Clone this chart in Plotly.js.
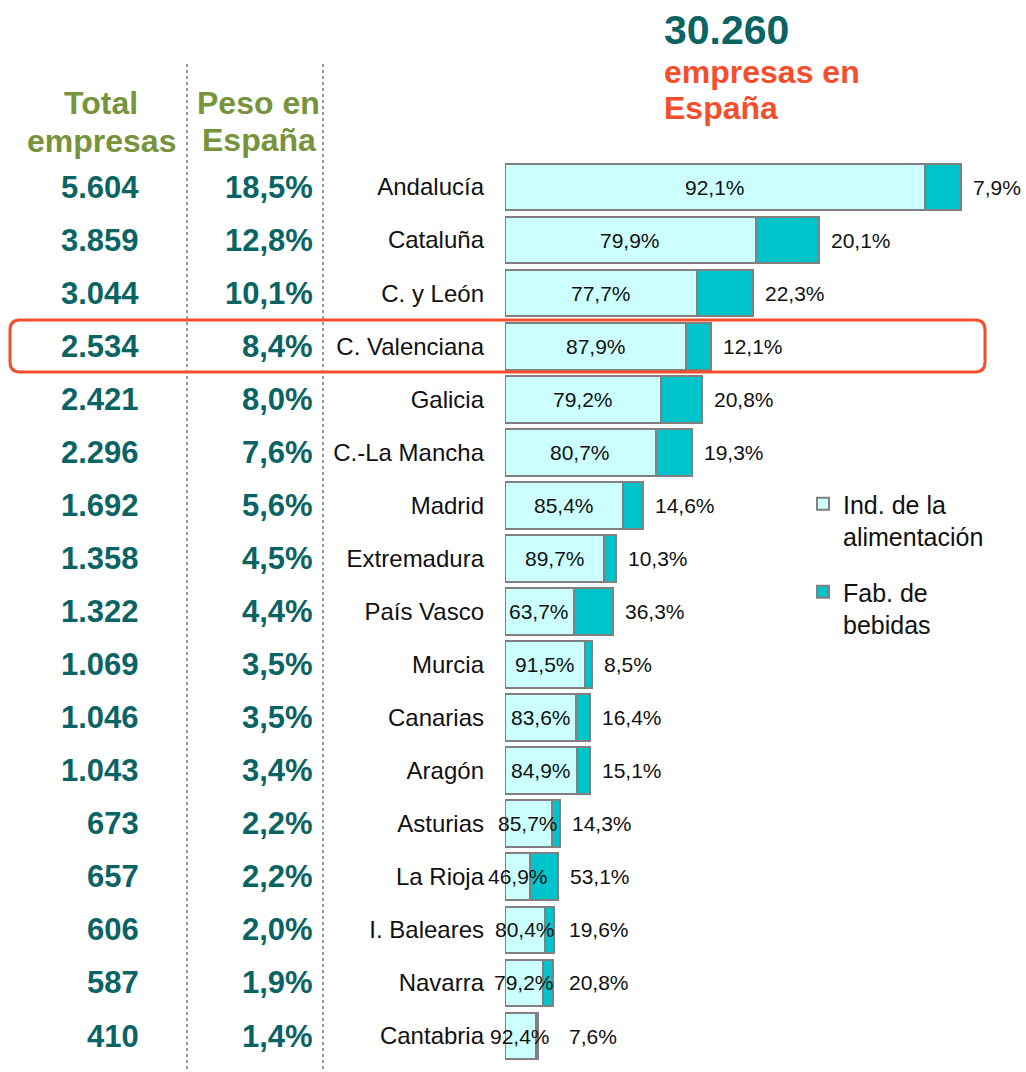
<!DOCTYPE html>
<html>
<head>
<meta charset="utf-8">
<script src="https://cdn.plot.ly/plotly-3.0.1.min.js"></script>
<style>html,body{margin:0;padding:0;background:#fff;}#chart{width:1026px;height:1072px;}</style>
</head>
<body>
<div id="chart"></div>
<script>
// ---- data ----
const regions = ["Andalucía","Cataluña","C. y León","C. Valenciana","Galicia","C.-La Mancha","Madrid","Extremadura","País Vasco","Murcia","Canarias","Aragón","Asturias","La Rioja","I. Baleares","Navarra","Cantabria"];
const totals = [5604,3859,3044,2534,2421,2296,1692,1358,1322,1069,1046,1043,673,657,606,587,410];
const peso = ["18,5%","12,8%","10,1%","8,4%","8,0%","7,6%","5,6%","4,5%","4,4%","3,5%","3,5%","3,4%","2,2%","2,2%","2,0%","1,9%","1,4%"];
const pctAlim = [92.1,79.9,77.7,87.9,79.2,80.7,85.4,89.7,63.7,91.5,83.6,84.9,85.7,46.9,80.4,79.2,92.4];
const pctBeb = [7.9,20.1,22.3,12.1,20.8,19.3,14.6,10.3,36.3,8.5,16.4,15.1,14.3,53.1,19.6,20.8,7.6];
const seriesNames = ["Ind. de la<br>alimentación","Fab. de<br>bebidas"];
const totalSpain = "30.260";
const highlightIndex = 3;

// ---- helpers ----
const W = 1026, H = 1072;
const px = v => v / W;
const py = v => 1 - v / H;
const fmtInt = n => String(n).replace(/\B(?=(\d{3})+(?!\d))/g, ".");
const fmtPct = v => v.toFixed(1).replace(".", ",") + "%";
const FONT = "Liberation Sans, Arial, sans-serif";
const TEAL = "#0B6464";
const GREEN = "#77933C";
const RED = "#F54E2C";

const alimVals = totals.map((t, i) => t * pctAlim[i] / 100);
const bebVals = totals.map((t, i) => t * pctBeb[i] / 100);

const traces = [
  {type: "bar", orientation: "h", y: regions, x: alimVals, name: seriesNames[0], legendgroup: "a",
   marker: {color: "#CCFFFF", line: {color: "#808080", width: 2}}, hoverinfo: "skip", width: 0.88},
  {type: "bar", orientation: "h", y: regions, x: bebVals, name: seriesNames[1], legendgroup: "b",
   marker: {color: "#00C4CC", line: {color: "#808080", width: 2}}, hoverinfo: "skip", width: 0.88}
];

const annotations = [];
regions.forEach((r, i) => {
  annotations.push({xref: "x", yref: "y", x: alimVals[i] / 2, y: r, text: fmtPct(pctAlim[i]), showarrow: false,
    xanchor: "center", yanchor: "middle", font: {family: FONT, size: 21, color: "#111"}});
  annotations.push({xref: "x", yref: "y", x: Math.max(totals[i], 640), y: r, text: fmtPct(pctBeb[i]), showarrow: false,
    xanchor: "left", yanchor: "middle", xshift: 10, font: {family: FONT, size: 21, color: "#111"}});
  annotations.push({xref: "paper", yref: "y", x: px(141), y: r, text: fmtInt(totals[i]), showarrow: false,
    xanchor: "right", yanchor: "middle", font: {family: FONT, size: 31, color: TEAL, weight: "bold"}});
  annotations.push({xref: "paper", yref: "y", x: px(315), y: r, text: peso[i], showarrow: false,
    xanchor: "right", yanchor: "middle", font: {family: FONT, size: 31, color: TEAL, weight: "bold"}});
});
// headers
[["Total", 101, 103], ["empresas", 101, 141], ["Peso en", 258, 103], ["España", 259, 140]].forEach(h => {
  annotations.push({xref: "paper", yref: "paper", x: px(h[1]), y: py(h[2]), text: h[0], showarrow: false,
    xanchor: "center", yanchor: "middle", font: {family: FONT, size: 32, color: GREEN, weight: "bold"}});
});
annotations.push({xref: "paper", yref: "paper", x: px(662), y: py(30), text: totalSpain, showarrow: false,
  xanchor: "left", yanchor: "middle", font: {family: FONT, size: 41, color: TEAL, weight: "bold"}});
annotations.push({xref: "paper", yref: "paper", x: px(662), y: py(72), text: "empresas en", showarrow: false,
  xanchor: "left", yanchor: "middle", font: {family: FONT, size: 32, color: RED, weight: "bold"}});
annotations.push({xref: "paper", yref: "paper", x: px(662), y: py(108), text: "España", showarrow: false,
  xanchor: "left", yanchor: "middle", font: {family: FONT, size: 32, color: RED, weight: "bold"}});

// rounded highlight rectangle path (paper coords)
function roundRect(x0, y0, x1, y1, r) {
  const P = (x, y) => px(x) + "," + py(y);
  return "M" + P(x0 + r, y0) + " L" + P(x1 - r, y0) + " Q" + P(x1, y0) + " " + P(x1, y0 + r) +
    " L" + P(x1, y1 - r) + " Q" + P(x1, y1) + " " + P(x1 - r, y1) +
    " L" + P(x0 + r, y1) + " Q" + P(x0, y1) + " " + P(x0, y1 - r) +
    " L" + P(x0, y0 + r) + " Q" + P(x0, y0) + " " + P(x0 + r, y0) + " Z";
}

const shapes = [
  {type: "line", xref: "paper", yref: "paper", x0: px(187), x1: px(187), y0: py(64), y1: 0,
   line: {color: "#9A9A9A", width: 2, dash: "dot"}},
  {type: "line", xref: "paper", yref: "paper", x0: px(323), x1: px(323), y0: py(64), y1: 0,
   line: {color: "#9A9A9A", width: 2, dash: "dot"}},
  {type: "path", xref: "paper", yref: "paper", path: roundRect(10, 320, 985, 372, 10),
   line: {color: RED, width: 3}, fillcolor: "rgba(0,0,0,0)"}
];

const xMax = (W - 505) / (456 / totals[0]);
const layout = {
  width: W, height: H,
  margin: {l: 0, r: 0, t: 0, b: 0},
  paper_bgcolor: "#fff", plot_bgcolor: "rgba(0,0,0,0)",
  barmode: "stack",
  font: {family: FONT, size: 20, color: "#111"},
  xaxis: {domain: [505 / W, 1], range: [0, xMax], visible: false, fixedrange: true},
  yaxis: {type: "category", range: [16.678, -3.524], autorange: false, showgrid: false, zeroline: false,
    showline: false, ticks: "", ticklabelstandoff: 20, automargin: false,
    tickfont: {family: FONT, size: 24, color: "#111"}},
  showlegend: true,
  legend: {x: px(803), y: py(481), xanchor: "left", yanchor: "top", traceorder: "grouped", tracegroupgap: 20,
    valign: "top", font: {family: FONT, size: 25, color: "#111"}, bgcolor: "rgba(0,0,0,0)", itemclick: false},
  annotations: annotations,
  shapes: shapes
};

Plotly.newPlot("chart", traces, layout, {displayModeBar: false, staticPlot: true});
</script>
</body>
</html>
